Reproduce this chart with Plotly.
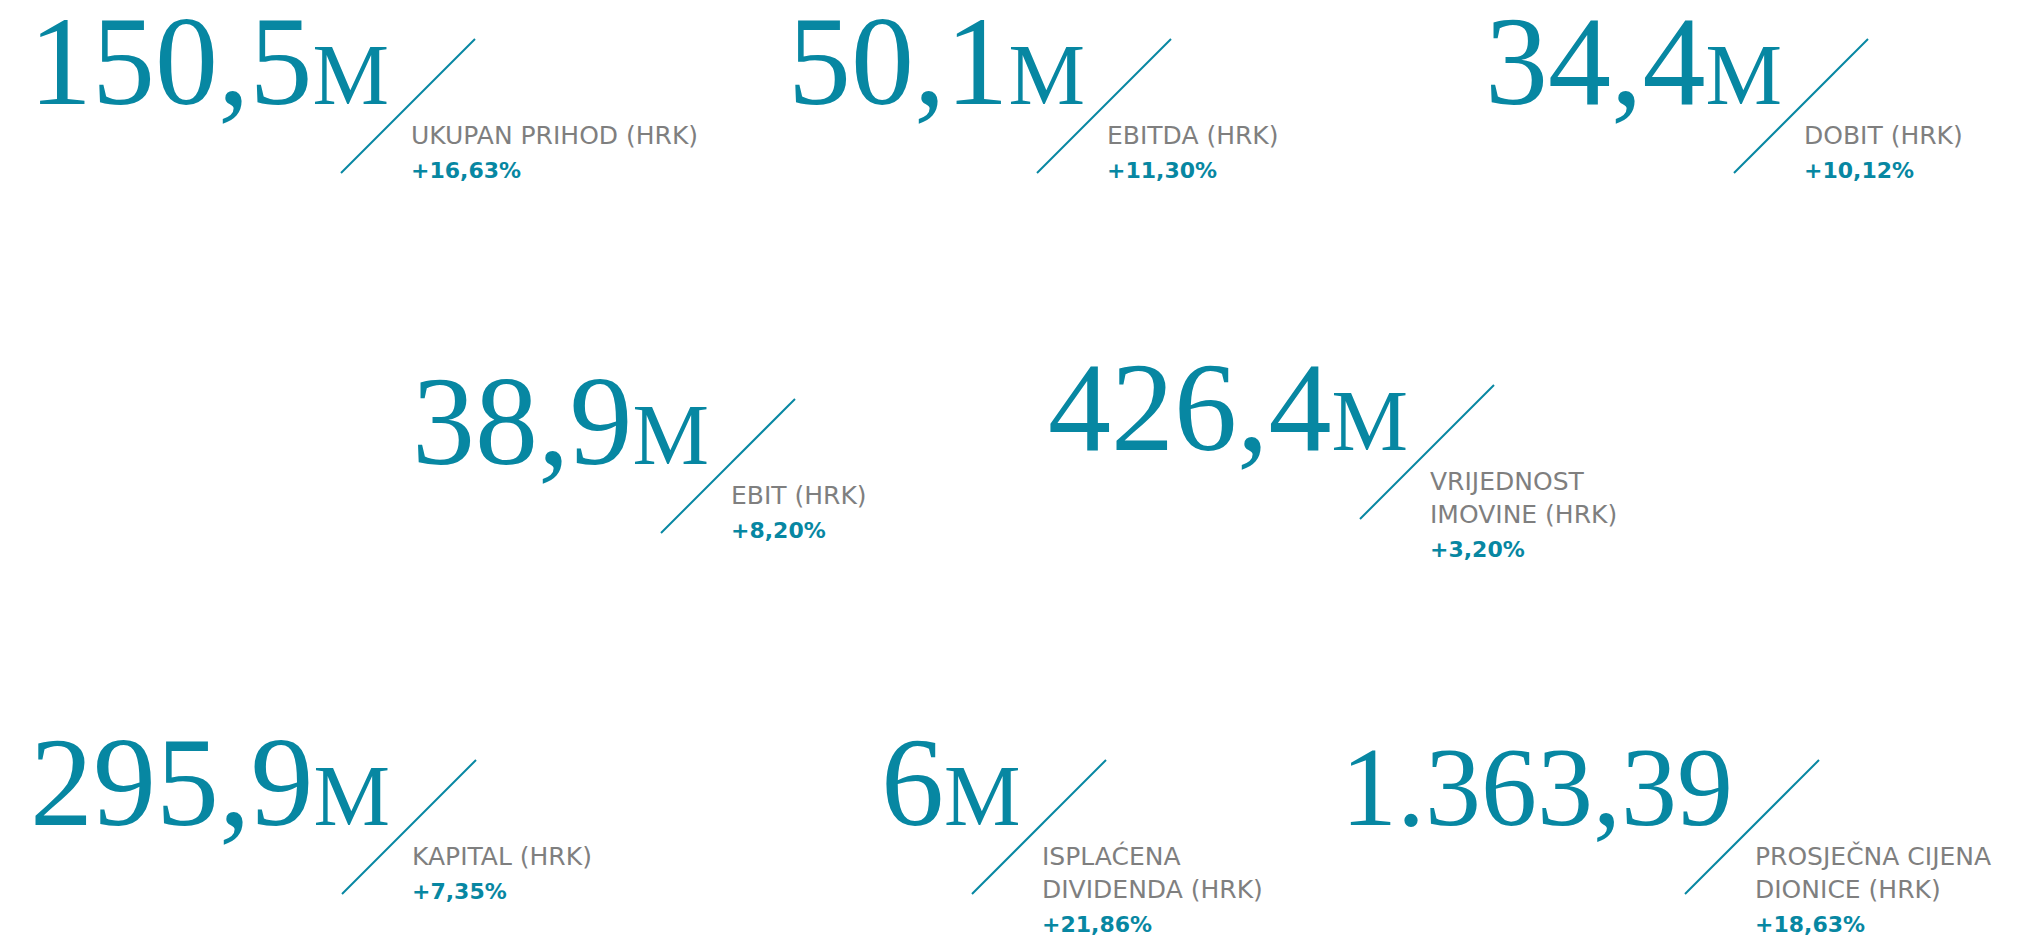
import plotly.graph_objects as go

# KPI values (text as printed), units, captions and year-on-year change
values = ["150,5", "50,1", "34,4", "38,9", "426,4", "295,9", "6", "1.363,39"]
units = ["M", "M", "M", "M", "M", "M", "M", ""]
labels = [
    ["UKUPAN PRIHOD (HRK)"],
    ["EBITDA (HRK)"],
    ["DOBIT (HRK)"],
    ["EBIT (HRK)"],
    ["VRIJEDNOST", "IMOVINE (HRK)"],
    ["KAPITAL (HRK)"],
    ["ISPLAĆENA", "DIVIDENDA (HRK)"],
    ["PROSJEČNA CIJENA", "DIONICE (HRK)"],
]
changes = ["+16,63%", "+11,30%", "+10,12%", "+8,20%", "+3,20%", "+7,35%", "+21,86%", "+18,63%"]

# layout: top end of each slash, in page pixels
tile_x = [475, 1171, 1868, 795, 1494, 476, 1106, 1819]
tile_y = [39, 39, 39, 399, 385, 760, 760, 760]

TEAL = "#0787a2"
GREY = "#7f7f7f"
W, H = 2040, 936
SLASH = 134
UNIT = 86
LAB = 25

fig = go.Figure()
shapes = []
annotations = []

for i, v in enumerate(values):
    sx, sy = tile_x[i], tile_y[i]
    big = 126 if units[i] else 112
    shapes.append(dict(type="line", xref="x", yref="y", x0=sx, y0=sy,
                       x1=sx - SLASH, y1=sy + SLASH,
                       line=dict(color=TEAL, width=2)))
    txt = v
    if units[i]:
        txt += f'<span style="font-size:{UNIT}px">{units[i]}</span>'
    annotations.append(dict(x=sx - 85, y=sy + 64 - 0.33 * big, xref="x", yref="y",
                            text=txt, showarrow=False, xanchor="right", yanchor="middle",
                            borderpad=0,
                            font=dict(family="Liberation Serif", size=big, color=TEAL)))
    lx = sx - SLASH + 69
    ly = sy + 96
    for j, line in enumerate(labels[i]):
        annotations.append(dict(x=lx, y=ly + 33 * j, xref="x", yref="y", text=line,
                                showarrow=False, xanchor="left", yanchor="middle", borderpad=0,
                                font=dict(family="DejaVu Sans", size=LAB, color=GREY)))
    py = ly + 33 * (len(labels[i]) - 1) + 35
    annotations.append(dict(x=lx, y=py, xref="x", yref="y", text=f"<b>{changes[i]}</b>",
                            showarrow=False, xanchor="left", yanchor="middle", borderpad=0,
                            font=dict(family="DejaVu Sans", size=22, color=TEAL)))

fig.update_layout(
    width=W, height=H,
    margin=dict(l=0, r=0, t=0, b=0),
    paper_bgcolor="white", plot_bgcolor="white",
    xaxis=dict(range=[0, W], visible=False, fixedrange=True),
    yaxis=dict(range=[H, 0], visible=False, fixedrange=True),
    shapes=shapes, annotations=annotations,
    showlegend=False,
)

fig.write_html("out.html", config={"displayModeBar": False},
               post_script="document.body.style.margin='0';document.body.style.overflow='hidden';")
